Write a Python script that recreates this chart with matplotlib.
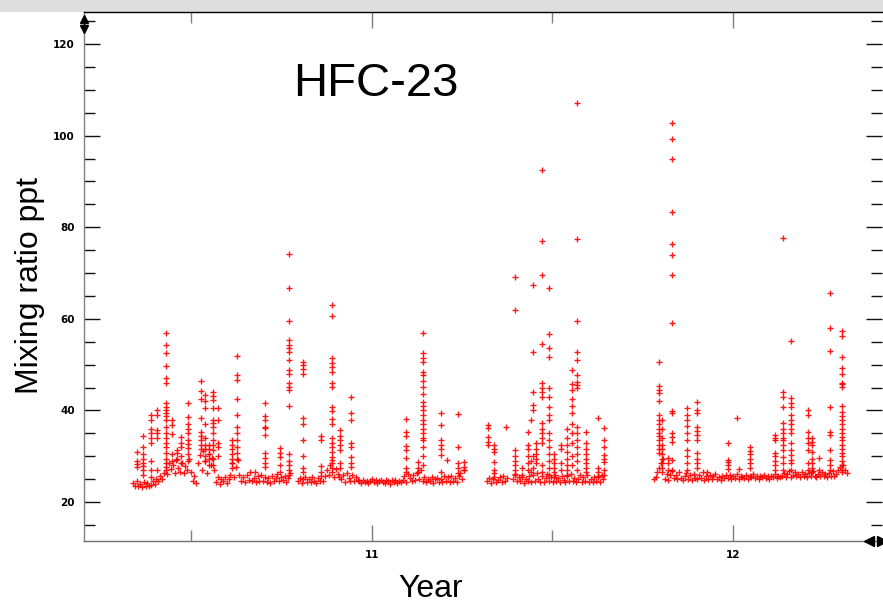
import numpy as np
import matplotlib
matplotlib.use("Agg")
import matplotlib.pyplot as plt
from matplotlib.lines import Line2D
from matplotlib.patches import Rectangle

# ---------------- data (decimal year, ppt) ----------------
step = 0.005  # regular sampling interval of the baseline record (years)

seg_start = [10.338, 10.795, 11.319, 11.391, 11.781]

seg_a = [24.2, 23.6, 24.5, 23.4, 24.0, 23.3, 24.4, 23.6, 24.2, 23.4,
         23.8, 24.6, 24.0, 25.1, 24.5, 25.7, 25.1, 26.4,
         27.0, 26.2, 28.6, 27.2, 28.1, 26.4, 29.1, 27.5, 26.6, 28.5, 26.3, 27.9, 27.0, 29.3, 26.6,
         24.6, 25.7, 24.2,
         28.5, 30.3, 27.0, 31.1, 29.0, 26.4, 30.6, 28.0, 29.6, 27.1,
         24.4, 25.4, 24.0, 25.1, 24.5, 25.5, 24.2, 25.0,
         26.0, 28.6, 25.4, 27.6, 29.1, 25.9,
         24.5, 25.4, 24.3, 25.9, 24.8, 26.5, 24.6, 25.3, 24.3, 25.7, 24.7, 26.0, 24.5, 25.4,
         24.4, 25.3, 24.2, 25.7, 24.7, 25.2, 26.1, 24.5, 25.5, 24.8, 25.8, 24.4, 25.3, 26.3]

seg_b = [24.5, 25.3, 24.2, 25.0, 25.5, 24.4, 25.1, 24.3, 25.4, 24.6, 24.2, 25.2, 24.5, 25.6, 24.7,
         25.8, 27.0, 26.0, 28.0, 26.5, 25.5, 27.3, 26.2, 25.4,
         25.0, 25.9, 24.4, 26.3, 25.2, 24.6, 26.0, 24.5, 25.4, 24.8,
         24.6, 24.1, 24.9, 24.3, 24.7, 24.1, 24.6, 25.0, 24.3, 24.8, 24.1, 24.6,
         24.9, 24.3, 24.1, 24.8, 24.5, 24.0, 24.8, 24.3, 24.9, 24.1, 24.6, 24.3,
         24.8, 25.7, 24.4, 26.1, 25.2, 24.6, 25.9, 24.8, 26.4, 25.1, 27.0,
         24.5, 25.4, 24.3, 25.1, 24.6, 25.5, 24.2, 25.0, 25.3, 24.4,
         25.1, 24.3, 25.7, 24.7, 25.4, 24.4, 25.8, 24.5, 25.2, 24.3, 25.6, 26.4, 25.0, 26.9]

seg_c = [24.5, 25.3, 24.2, 25.0, 25.5, 24.4, 24.8, 25.4, 24.3, 25.7, 24.6, 25.2]

seg_d = [25.0, 26.1, 24.5, 25.4, 24.5, 25.4, 24.2, 25.1, 24.7, 25.6, 24.3, 26.0, 24.6,
         26.3, 25.0, 24.4, 25.7, 24.3, 25.3, 26.1, 24.6, 25.5, 24.4, 25.9, 24.5, 25.2,
         24.3, 25.8, 24.8, 24.4, 25.6, 24.7, 26.1, 24.5, 25.3, 24.3, 25.1, 25.9, 24.4,
         25.4, 24.6, 26.0, 24.3, 25.0, 24.4, 25.4, 24.6, 25.6, 24.3, 25.9, 25.0]

seg_e = [25.0, 25.5, 26.5, 27.5, 28.5, 29.5,
         25.1, 26.2, 24.9, 25.9, 26.7, 25.2, 26.0, 25.0, 26.5, 25.3, 24.9, 25.8, 26.4, 25.1,
         25.9, 24.9, 26.2, 25.3, 25.0, 26.0, 25.2, 26.6, 24.9, 25.7, 25.1, 25.9, 25.0, 25.6,
         26.2, 25.1, 25.5, 24.9, 25.8, 25.2, 26.0,
         25.2, 26.0, 25.1, 25.7, 25.3, 26.1, 25.1, 25.8, 25.4, 25.2, 26.0, 25.1, 25.7, 25.4,
         26.1, 25.2, 25.8, 25.1, 25.7, 25.4, 26.0, 25.2, 25.7, 25.1, 25.8, 25.4, 26.1, 25.2,
         25.7, 25.4,
         25.6, 26.4, 25.4, 26.1, 26.7, 25.5, 26.0, 26.5, 25.6, 26.2, 25.5, 26.6, 25.7, 26.1,
         25.5, 26.4, 25.6, 26.8, 25.8, 25.5, 26.2, 25.6, 26.5, 25.7, 26.1, 25.5, 26.4, 25.8,
         26.7, 25.6, 26.1, 26.9, 27.6, 26.5, 28.1, 27.0, 26.3]

segments = [seg_a, seg_b, seg_c, seg_d, seg_e]

# pollution episodes: time of event and the readings logged during it
event_year = [10.349, 10.366, 10.388, 10.404, 10.429, 10.446, 10.460, 10.471, 10.490,
              10.526, 10.537, 10.548, 10.560, 10.573, 10.612, 10.626, 10.676, 10.704,
              10.745, 10.770, 10.809, 10.859, 10.889, 10.911, 10.942, 11.094, 11.127,
              11.141, 11.191, 11.208, 11.238, 11.255, 11.321, 11.338, 11.371, 11.396,
              11.416, 11.432, 11.440, 11.446, 11.454, 11.471, 11.490, 11.504, 11.524,
              11.540, 11.554, 11.568, 11.593, 11.626, 11.643, 11.795, 11.803, 11.820,
              11.831, 11.873, 11.900, 11.928, 11.986, 12.011, 12.017, 12.047, 12.116,
              12.139, 12.161, 12.208, 12.219, 12.238, 12.269, 12.302]

event_ppt = [
    [27.6, 28.3, 29.0, 31.0],
    [26.0, 27.0, 27.8, 28.6, 29.5, 30.5, 32.0, 34.4],
    [25.5, 27.0, 29.0, 33.0, 34.0, 35.0, 36.0, 37.9, 39.0],
    [27.0, 34.0, 35.0, 35.7, 39.0, 40.0],
    [27.6, 28.5, 29.5, 30.7, 32.0, 33.0, 34.0, 35.0, 36.4, 38.0, 38.8, 39.4, 40.0, 40.8,
     41.6, 46.0, 47.0, 49.7, 52.5, 54.3, 56.9],
    [29.0, 30.5, 34.8, 36.8, 38.0],
    [29.5, 30.7, 31.3],
    [28.5, 30.0, 32.0, 33.0, 34.2],
    [29.0, 30.5, 31.8, 32.6, 33.5, 35.0, 36.0, 37.0, 38.6, 41.6],
    [31.5, 32.5, 33.5, 34.4, 35.3, 38.3, 42.5, 44.2, 46.4],
    [29.0, 30.0, 31.5, 32.5, 34.0, 37.0, 40.5, 42.0, 43.4],
    [28.0, 29.5, 30.5, 31.5, 32.5],
    [28.0, 29.5, 31.4, 32.5, 33.5, 35.0, 36.4, 37.2, 38.0, 40.5, 42.3, 43.2, 44.0],
    [30.0, 32.0, 33.0, 38.0, 40.5],
    [27.5, 28.5, 29.5, 30.5, 31.5, 32.5, 33.5],
    [29.5, 30.7, 32.0, 33.5, 35.0, 36.4, 39.0, 42.5, 46.6, 47.7, 51.9],
    [26.5],
    [27.6, 28.6, 29.6, 30.7, 34.6, 36.2, 36.4, 38.0, 38.8, 41.6],
    [26.5, 28.0, 29.8, 30.8, 31.8],
    [26.0, 27.0, 28.0, 29.0, 30.5, 41.0, 44.5, 45.1, 46.0, 48.0, 48.8, 51.0, 52.8, 53.6,
     54.4, 55.4, 59.5, 66.8, 74.2],
    [26.5, 27.5, 30.0, 33.5, 37.0, 38.3, 48.0, 49.0, 50.0, 50.6],
    [26.5, 27.8, 33.5, 34.4],
    [27.5, 28.5, 29.2, 29.8, 31.0, 32.0, 33.0, 34.0, 37.0, 38.1, 39.9, 40.7, 45.1, 46.0,
     48.4, 49.4, 50.4, 51.4, 60.6, 63.0],
    [27.5, 28.5, 31.4, 32.5, 33.5, 34.5, 35.7],
    [27.6, 28.5, 29.8, 32.0, 32.9, 37.9, 39.4, 43.0],
    [26.5, 27.5, 29.6, 31.4, 32.2, 34.4, 35.3, 38.1],
    [26.5, 27.5, 28.7],
    [28.0, 30.0, 32.0, 33.5, 34.0, 35.0, 36.0, 37.0, 38.0, 39.0, 40.0, 41.0, 41.8, 43.6,
     45.1, 46.4, 47.7, 48.4, 50.6, 51.5, 52.5, 56.9],
    [26.5, 30.3, 31.5, 32.5, 33.5, 36.8, 39.4],
    [29.2],
    [26.3, 27.5, 28.5, 32.0, 39.2],
    [27.0, 27.6, 28.7],
    [32.4, 33.2, 34.2, 36.2, 36.8],
    [26.3, 27.0, 28.7, 30.9, 31.6, 32.4],
    [36.4],
    [26.0, 27.0, 28.0, 29.0, 30.0, 31.4, 61.9, 69.1],
    [26.0, 27.5],
    [27.0, 28.5, 30.0, 31.5, 32.5, 35.3],
    [26.5, 29.0, 37.9],
    [27.5, 30.0, 40.0, 41.2, 44.0, 52.8, 67.4],
    [28.5, 29.5, 30.5, 31.5, 32.9],
    [26.5, 28.0, 33.0, 34.0, 35.0, 36.0, 37.2, 43.0, 44.0, 44.9, 46.0, 54.5, 69.6, 77.0, 92.5],
    [26.0, 27.5, 29.0, 30.5, 32.0, 33.5, 35.0, 37.9, 39.0, 40.7, 43.0, 44.9, 51.7, 53.6,
     56.7, 66.7],
    [25.5, 26.5, 27.5, 28.5, 29.5, 30.5],
    [27.0, 28.5, 31.5, 32.5],
    [26.0, 27.0, 28.0, 29.5, 31.0, 32.5, 34.0, 36.0],
    [28.0, 30.0, 33.0, 35.0, 37.0, 39.4, 41.0, 42.5, 44.5, 45.8, 48.8],
    [27.0, 29.0, 30.5, 32.0, 33.5, 35.0, 36.4, 44.9, 45.5, 46.2, 47.7, 51.0, 52.8, 59.5,
     77.4, 107.1],
    [26.5, 27.5, 28.5, 29.5, 30.5, 31.5, 32.9, 35.3],
    [25.5, 26.5, 27.5, 38.3],
    [26.0, 27.0, 28.7, 29.5, 30.3, 32.0, 33.5, 36.2],
    [30.7, 31.5, 32.5, 33.5, 34.5, 35.0, 36.0, 37.0, 38.0, 39.0, 42.0, 43.8, 44.5, 45.3, 50.6],
    [26.5, 27.5, 28.5, 29.5, 30.5, 31.5, 32.5, 34.0, 36.0, 38.0],
    [27.0, 28.5, 29.6],
    [27.0, 29.2, 33.1, 34.2, 35.0, 39.4, 39.9, 59.1, 69.6, 73.9, 76.3, 83.3, 94.9, 99.3, 102.7],
    [27.0, 28.5, 30.0, 31.4, 33.5, 35.0, 36.5, 37.9, 39.0, 40.5],
    [27.5, 28.5, 29.5, 30.7, 33.5, 34.6, 35.5, 36.4, 39.4, 40.0, 41.8],
    [26.5],
    [27.2, 28.1, 28.7, 29.2, 32.9],
    [38.3],
    [27.2],
    [27.5, 28.5, 29.5, 30.5, 31.2, 32.0],
    [27.0, 28.0, 29.0, 30.0, 30.7, 33.5, 34.0, 34.6],
    [27.0, 28.5, 29.8, 31.4, 32.5, 33.5, 34.0, 35.0, 36.0, 37.2, 40.7, 43.0, 44.0, 77.6],
    [27.0, 28.5, 29.2, 30.3, 31.4, 32.9, 35.0, 36.0, 37.0, 37.9, 39.0, 40.7, 41.7, 42.7, 55.2],
    [27.0, 28.5, 31.4, 32.9, 34.0, 35.3, 39.0, 40.0],
    [26.5, 27.5, 28.5, 29.5, 31.0, 32.4, 33.2, 34.0],
    [27.0, 29.6],
    [27.0, 28.0, 29.2, 31.4, 34.6, 35.3, 40.7, 53.0, 58.0, 65.6],
    [27.0, 28.0, 29.0, 30.0, 30.7, 31.5, 32.5, 33.5, 34.2, 35.0, 36.0, 37.0, 37.9, 38.8,
     39.7, 41.0, 45.1, 45.8, 46.0, 48.0, 49.3, 51.7, 56.2, 57.3],
]

x_major = [11, 12]
x_major_labels = ["11", "12"]
x_minor = [10.5, 11.5]
y_major = [20, 40, 60, 80, 100, 120]
y_minor = [15, 25, 30, 35, 45, 50, 55, 65, 70, 75, 85, 90, 95, 105, 110, 115, 125]

# ---------------- assemble ----------------
xs, ys = [], []
for start, vals in zip(seg_start, segments):
    xs.extend(start + step * np.arange(len(vals)))
    ys.extend(vals)
for yr, vals in zip(event_year, event_ppt):
    xs.extend([yr] * len(vals))
    ys.extend(vals)

# ---------------- figure ----------------
W, H = 883, 603
fig = plt.figure(figsize=(W / 100, H / 100), dpi=100)
fig.patch.set_facecolor("white")
fig.add_artist(Rectangle((0, 1 - 12 / H), 1, 12 / H, transform=fig.transFigure,
                         facecolor="#dedede", edgecolor="none", zorder=0))

L, R, B, T = 84, 882, 541, 12
ax = fig.add_axes([L / W, 1 - B / H, (R - L) / W, (B - T) / H])
ax.plot(xs, ys, linestyle="none", marker="+", ms=4.0, mew=1.0, color="#ff0000", alpha=0.9)

ax.set_xlim(10.2022, 12.413)
ax.set_ylim(11.5, 127)

ax.set_xticks(x_major)
ax.set_xticklabels(x_major_labels)
ax.set_xticks(x_minor, minor=True)
ax.set_yticks(y_major)
ax.set_yticklabels([str(v) for v in y_major])
ax.set_yticks(y_minor, minor=True)

ax.tick_params(axis="both", which="both", direction="in", top=True, right=True,
               labelsize=7.5, pad=6.5)
ax.tick_params(axis="both", which="major", length=11.5, width=1.0)
ax.tick_params(axis="both", which="minor", length=8, width=1.0)
ax.tick_params(axis="x", which="both", color="#7f7f7f")
ax.tick_params(axis="y", which="both", color="#111111")
for lab in ax.get_xticklabels() + ax.get_yticklabels():
    lab.set_fontweight("bold")

ax.spines["left"].set_color("#808080")
ax.spines["bottom"].set_color("#707070")
ax.spines["top"].set_color("#000000")
ax.spines["right"].set_visible(False)
for s in ("left", "bottom", "top"):
    ax.spines[s].set_linewidth(1.0)

# texts
fig.text(376 / W, 1 - 83.5 / H, "HFC-23", fontsize=34, family="Liberation Sans",
         ha="center", va="center")
fig.text(431 / W, 1 - 597 / H, "Year", fontsize=23, family="Liberation Sans",
         ha="center", va="baseline")
fig.text(30 / W, 1 - 285 / H, "Mixing ratio ppt", fontsize=23, family="Liberation Sans",
         ha="center", va="center", rotation=90)

# axis arrow decorations
fig.add_artist(Line2D([L / W], [1 - 19 / H], marker="^", ms=6, color="black", lw=0))
fig.add_artist(Line2D([L / W], [1 - 29 / H], marker="v", ms=6, color="black", lw=0))
fig.add_artist(Line2D([L / W, L / W], [1 - 19 / H, 1 - 29 / H], color="black", lw=1))
fig.add_artist(Line2D([869 / W], [1 - B / H], marker="<", ms=7, color="black", lw=0))
fig.add_artist(Line2D([882 / W], [1 - B / H], marker=">", ms=7, color="black", lw=0))

fig.savefig("out.png", dpi=100)
